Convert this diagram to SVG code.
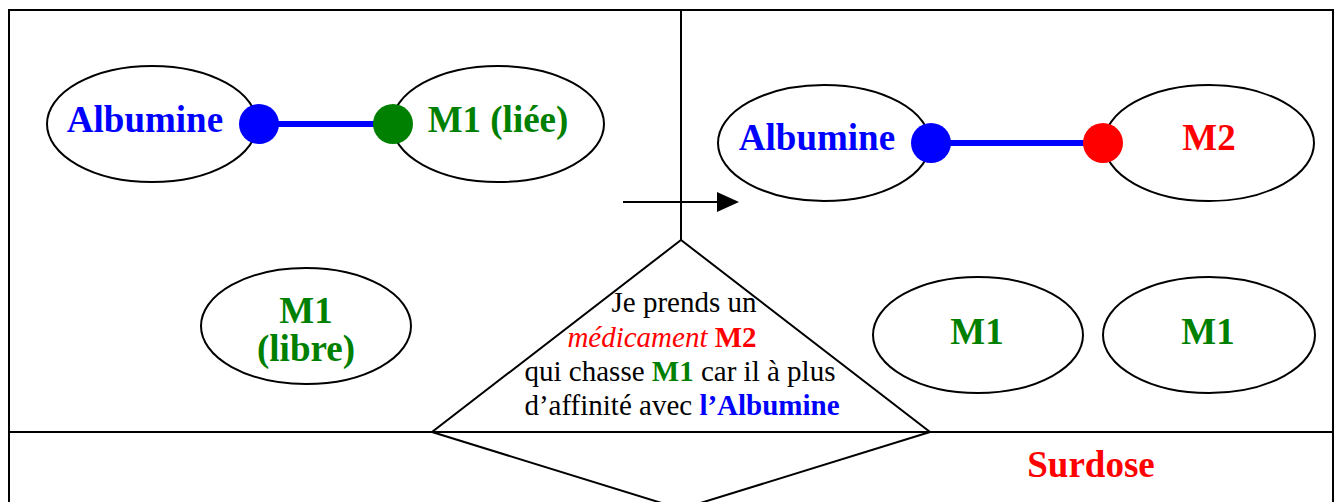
<svg xmlns="http://www.w3.org/2000/svg" width="1337" height="502" viewBox="0 0 1337 502">
<style>
.t{font-family:"Liberation Serif","Times New Roman",serif;}
.b{font-weight:bold;}
.big{font-size:37px;}
.sm{font-size:29px;}
.el{fill:#fff;stroke:#000;stroke-width:2;}
.fr{fill:none;stroke:#000;stroke-width:2;}
.blue{fill:#0000FF;}
.green{fill:#008000;}
.red{fill:#FF0000;}
.bond{stroke:#0000FF;stroke-width:6;}
</style>
<defs>
<marker id="ah" markerWidth="22" markerHeight="20" refX="0" refY="10" orient="auto" markerUnits="userSpaceOnUse">
<path d="M0,0 L22,10 L0,20 Z" fill="#000"/>
</marker>
</defs>
<g id="frame">
<path class="fr" d="M9,502 L9,10 L1333,10 L1333,502"/>
<line class="fr" x1="9" y1="432" x2="1333" y2="432"/>
<line class="fr" x1="681" y1="10" x2="681" y2="240"/>
</g>
<g id="connectors">
<line x1="623" y1="202" x2="717" y2="202" stroke="#000" stroke-width="2" marker-end="url(#ah)"/>
<line class="bond" x1="259" y1="124" x2="393" y2="124"/>
<line class="bond" x1="931" y1="143" x2="1103" y2="143"/>
</g>
<g id="triangle">
<path class="fr" d="M681,240 L432,432 L930,432 Z" fill="#fff"/>
<path class="fr" d="M432,432 L681,509 L930,432"/>
<text class="t sm" x="684" y="312" text-anchor="middle">Je prends un</text>
<text class="t sm" x="662" y="347" text-anchor="middle"><tspan class="red" font-style="italic">médicament</tspan> <tspan class="red b">M2</tspan></text>
<text class="t sm" x="680" y="381" text-anchor="middle">qui chasse <tspan class="green b">M1</tspan> car il à plus</text>
<text class="t sm" x="682" y="415" text-anchor="middle">d’affinité avec <tspan class="blue b">l’Albumine</tspan></text>
</g>
<g id="albumine1">
<ellipse class="el" cx="152" cy="124" rx="105" ry="58"/>
<text class="t b big blue" x="145" y="132" text-anchor="middle">Albumine</text>
</g>
<g id="m1liee">
<ellipse class="el" cx="498" cy="124" rx="106" ry="58"/>
<text class="t b big green" x="498" y="132" text-anchor="middle">M1 (liée)</text>
</g>
<g id="dots1">
<circle cx="259" cy="124" r="20" class="blue"/>
<circle cx="393" cy="124" r="20" class="green"/>
</g>
<g id="albumine2">
<ellipse class="el" cx="824" cy="143" rx="106" ry="58"/>
<text class="t b big blue" x="817" y="150" text-anchor="middle">Albumine</text>
</g>
<g id="m2">
<ellipse class="el" cx="1209" cy="143" rx="105" ry="58"/>
<text class="t b big red" x="1209" y="150" text-anchor="middle">M2</text>
</g>
<g id="dots2">
<circle cx="931" cy="143" r="20" class="blue"/>
<circle cx="1103" cy="143" r="20" class="red"/>
</g>
<g id="m1libre">
<ellipse class="el" cx="306" cy="326" rx="105" ry="58"/>
<text class="t b big green" x="306" y="323" text-anchor="middle">M1</text>
<text class="t b big green" x="306" y="361" text-anchor="middle">(libre)</text>
</g>
<g id="m1a">
<ellipse class="el" cx="978" cy="335" rx="105" ry="58"/>
<text class="t b big green" x="977" y="344" text-anchor="middle">M1</text>
</g>
<g id="m1b">
<ellipse class="el" cx="1209" cy="335" rx="106" ry="58"/>
<text class="t b big green" x="1208" y="344" text-anchor="middle">M1</text>
</g>
<g id="surdose">
<text class="t b big red" x="1091" y="477" text-anchor="middle">Surdose</text>
</g>
</svg>
